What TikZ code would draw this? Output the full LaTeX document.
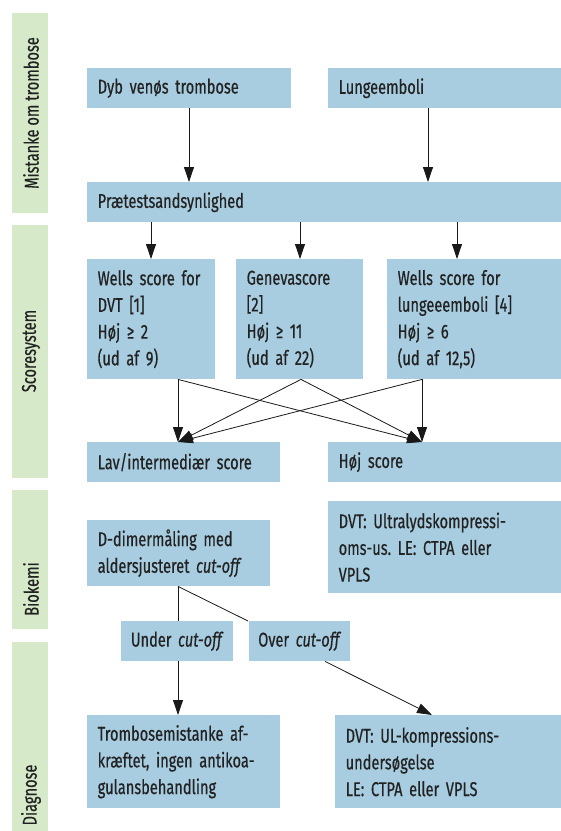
\documentclass[tikz,border=0pt]{standalone}
\usepackage{fontspec}
\setmainfont{Fira Sans}[FakeStretch=0.73, FakeBold=0.5]
\usetikzlibrary{arrows.meta,calc}
\definecolor{boxblue}{HTML}{A8CCE0}
\definecolor{bandgreen}{HTML}{D6EAC9}
\definecolor{txt}{HTML}{222222}
\frenchspacing
\begin{document}
\begin{tikzpicture}[x=1pt,y=-1pt,
  every node/.style={font=\fontsize{20}{26.7}\selectfont, text=txt},
  band/.style={fill=bandgreen, draw=none},
  bandlabel/.style={rotate=90, anchor=center, inner sep=0pt},
  conn/.style={draw=black!90, line width=0.8pt},
  arr/.style={conn, -{Triangle[length=15pt,width=10pt]}},
]
\useasboundingbox (0,0) rectangle (561,831);
% bands
\fill[band] (12,13) rectangle (48,213);
\fill[band] (12,225) rectangle (48,478);
\fill[band] (12,490) rectangle (48,629);
\fill[band] (12,642) rectangle (48,831);
\node[bandlabel] (l1) at (31,113) {Mistanke om trombose};
\node[bandlabel] (l2) at (31,351) {Scoresystem};
\node[bandlabel] (l3) at (31,589) {Biokemi};
\node[bandlabel] (l4) at (31,795) {Diagnose};
% boxes: \bx{name}{x1}{y1}{x2}{y2}{text}
\newcommand{\bx}[6]{%
  \pgfmathsetmacro{\bw}{#4-#2}\pgfmathsetmacro{\bh}{#5-#3}\pgfmathsetmacro{\tw}{#4-#2-21}%
  \node[fill=boxblue, anchor=north west, minimum width=\bw pt, minimum height=\bh pt,
        text width=\tw pt, inner xsep=10.5pt, inner ysep=0pt, align=left] (#1) at (#2,#3) {#6};}
\newcommand{\bxc}[6]{%
  \pgfmathsetmacro{\bw}{#4-#2}\pgfmathsetmacro{\bh}{#5-#3}\pgfmathsetmacro{\tw}{#4-#2-4}%
  \node[fill=boxblue, anchor=north west, minimum width=\bw pt, minimum height=\bh pt,
        text width=\tw pt, inner xsep=2pt, inner ysep=0pt, align=center] (#1) at (#2,#3) {#6};}
\bx{dvt}{87}{68}{291}{108}{Dyb venøs trombose}
\bx{le}{328}{68}{561}{108}{Lungeemboli}
\bx{pre}{87}{182}{561}{222}{Prætestsandsynlighed}
\bx{wdvt}{87}{259}{215}{379}{Wells score for\\DVT [1]\\Høj ≥ 2\\(ud af 9)}
\bx{gen}{236}{259}{363}{379}{Genevascore\\{}[2]\\Høj ≥ 11\\(ud af 22)}
\bx{wle}{387}{259}{561}{379}{Wells score for\\lungeeemboli [4]\\Høj ≥ 6\\(ud af 12,5)}
\bx{lav}{87}{442}{280}{482}{Lav/intermediær score}
\bx{hoj}{328}{442}{561}{482}{Høj score}
\bx{dd}{87}{520}{270}{586}{D-dimermåling med\\aldersjusteret \textit{cut-off}}
\bx{us}{328}{501}{561}{593}{DVT: Ultralydskompressi-\\oms-us. LE: CTPA eller\\VPLS}
\bxc{under}{121}{621}{233}{661}{Under \textit{cut-off}}
\bxc{over}{249}{621}{350}{661}{Over \textit{cut-off}}
\bx{afk}{87}{715}{280}{808}{Trombosemistanke af-\\kræftet, ingen antikoa-\\gulansbehandling}
\bx{ul}{335}{715}{561}{808}{DVT: UL-kompressions-\\undersøgelse\\LE: CTPA eller VPLS}
% column coordinates
\coordinate (c1) at (189,0);
\coordinate (c2) at (428,0);
\coordinate (c3) at (151,0);
\coordinate (c4) at (300,0);
\coordinate (c5) at (457,0);
\coordinate (ca) at (178,0);
\coordinate (cb) at (301,0);
\coordinate (cc) at (422,0);
\coordinate (cd) at (248,0);
\coordinate (ce) at (325,0);
\coordinate (cf) at (432,0);
% arrows
\draw[arr] (dvt.south -| c1) -- (pre.north -| c1);
\draw[arr] (le.south -| c2) -- (pre.north -| c2);
\draw[arr] (pre.south -| c3) -- (wdvt.north -| c3);
\draw[arr] (pre.south -| c4) -- (gen.north -| c4);
\draw[arr] (pre.south -| c5) -- (wle.north -| c5);
\draw[arr] (wdvt.south -| ca) -- (lav.north -| ca);
\draw[arr] (wdvt.south -| ca) -- (hoj.north -| cc);
\draw[arr] (gen.south -| cb) -- (lav.north -| ca);
\draw[arr] (gen.south -| cb) -- (hoj.north -| cc);
\draw[arr] (wle.south -| cc) -- (lav.north -| ca);
\draw[arr] (wle.south -| cc) -- (hoj.north -| cc);
\draw[conn] (dd.south -| ca) -- (under.north -| ca);
\draw[conn] (dd.south -| ca) -- (over.north -| cd);
\draw[arr] (under.south -| ca) -- (afk.north -| ca);
\draw[arr] (over.south -| ce) -- (ul.north -| cf);
\end{tikzpicture}
\end{document}
